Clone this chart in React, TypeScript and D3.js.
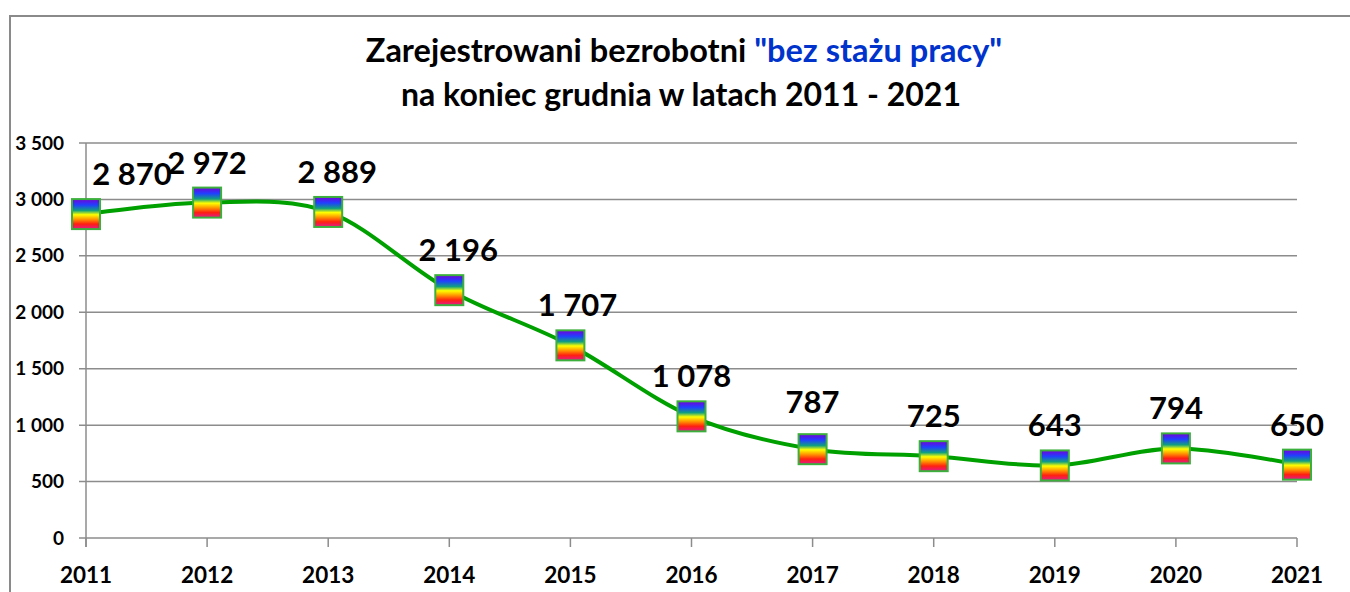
import React from "react";
import * as d3 from "d3";

const years = ["2011", "2012", "2013", "2014", "2015", "2016", "2017", "2018", "2019", "2020", "2021"];
const values = [2870, 2972, 2889, 2196, 1707, 1078, 787, 725, 643, 794, 650];
const yTicks = [0, 500, 1000, 1500, 2000, 2500, 3000, 3500];
const titleLine1Black = "Zarejestrowani bezrobotni ";
const titleLine1Blue = "\"bez stażu pracy\"";
const titleLine2 = "na koniec grudnia w latach 2011 - 2021";

const W = 1350;
const H = 592;
const FONT = "Lato, 'Open Sans', sans-serif";

const fmt = (v: number) => {
  const s = String(v);
  return s.length > 3 ? s.slice(0, s.length - 3) + " " + s.slice(-3) : s;
};

export default function App() {
  const x = d3.scalePoint<string>().domain(years).range([86, 1297]);
  const y = d3.scaleLinear().domain([0, 3500]).range([538, 143]);
  const line = d3
    .line<number>()
    .x((_, i) => x(years[i]) as number)
    .y((d) => y(d))
    .curve(d3.curveCardinal.tension(0));

  const rainbow = [
    ["0%", "#7400d8"],
    ["20%", "#2040ff"],
    ["38%", "#10a080"],
    ["52%", "#ffff00"],
    ["67%", "#ff9800"],
    ["83%", "#ff2010"],
    ["100%", "#e01a90"],
  ];

  const labelDx = (i: number) => (i === 0 ? 46 : i === 2 || i === 3 ? 9 : i === 4 ? 7 : 0);
  const labelDy = (i: number) => (i === 6 ? -36 : -29);

  return (
    <svg width={W} height={H} style={{ position: "absolute", left: 0, top: 0, background: "#fff" }}>
      <defs>
        <linearGradient id="rb" x1="0" y1="0" x2="0" y2="1">
          {rainbow.map(([o, c]) => (
            <stop key={o} offset={o} stopColor={c} />
          ))}
        </linearGradient>
      </defs>
      <rect x={0} y={0} width={W} height={H} fill="#fff" />
      <rect x={10} y={16} width={W + 20} height={H + 20} fill="none" stroke="#8a8a8a" strokeWidth={2} />

      <text x={684} y={62} textAnchor="middle" fontFamily={FONT} fontWeight={700} fontSize={32.5}>
        <tspan fill="#000">{titleLine1Black}</tspan>
        <tspan fill="#0033cc">{titleLine1Blue}</tspan>
      </text>
      <text x={681} y={106} textAnchor="middle" fontFamily={FONT} fontWeight={700} fontSize={32} fill="#000">
        {titleLine2}
      </text>

      {yTicks.map((t) => (
        <g key={t}>
          <line x1={79} x2={1297} y1={y(t)} y2={y(t)} stroke="#8c8c8c" strokeWidth={1.5} />
          <text x={64} y={y(t) + 6.5} textAnchor="end" fontFamily={FONT} fontWeight={700} fontSize={19} fill="#000">
            {fmt(t)}
          </text>
        </g>
      ))}
      <line x1={86} x2={86} y1={143} y2={547} stroke="#8c8c8c" strokeWidth={1.5} />
      {years.map((yr) => (
        <g key={yr}>
          <line x1={x(yr)} x2={x(yr)} y1={538} y2={547} stroke="#8c8c8c" strokeWidth={1.5} />
          <text x={x(yr)} y={583} textAnchor="middle" fontFamily={FONT} fontWeight={700} fontSize={22.5} fill="#000">
            {yr}
          </text>
        </g>
      ))}

      <path d={line(values) || ""} fill="none" stroke="#00a000" strokeWidth={4} />

      {values.map((v, i) => (
        <rect
          key={i}
          x={(x(years[i]) as number) - 14}
          y={y(v) - 15}
          width={28}
          height={30}
          fill="url(#rb)"
          stroke="#3cb03c"
          strokeWidth={2}
        />
      ))}

      {values.map((v, i) => (
        <text
          key={i}
          x={(x(years[i]) as number) + labelDx(i)}
          y={y(v) + labelDy(i)}
          textAnchor="middle"
          fontFamily={FONT}
          fontWeight={700}
          fontSize={31}
          fill="#000"
        >
          {fmt(v)}
        </text>
      ))}
    </svg>
  );
}
